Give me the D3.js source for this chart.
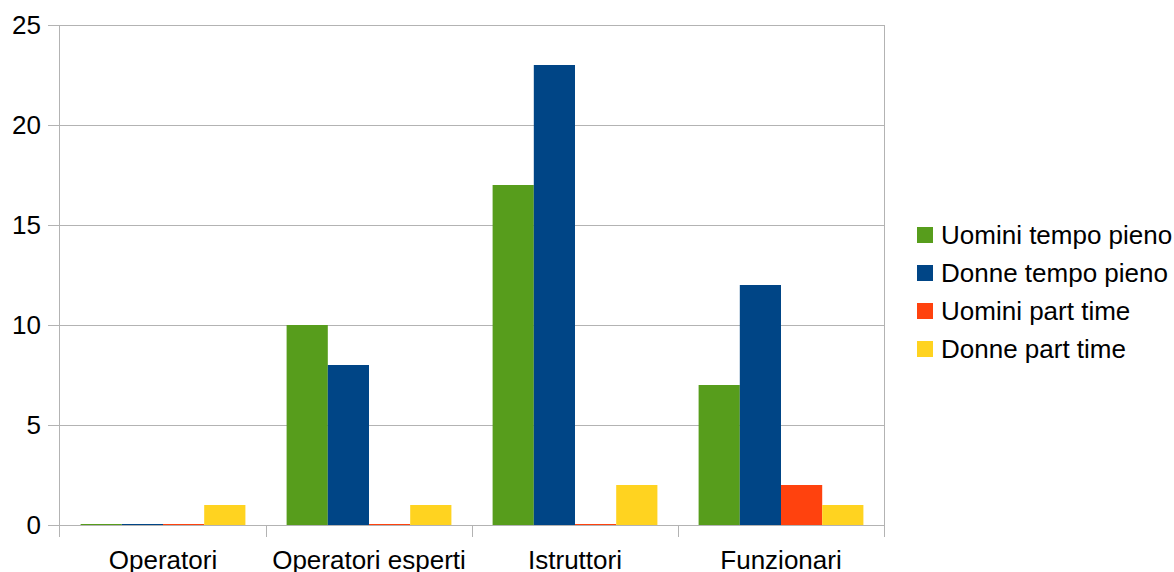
<!DOCTYPE html>
<html>
<head>
<meta charset="utf-8">
<script src="https://cdn.jsdelivr.net/npm/d3@7"></script>
<style>
  html, body { margin: 0; padding: 0; background: #fff; }
  text { font-family: "Liberation Sans", Arial, sans-serif; fill: #000; }
</style>
</head>
<body>
<svg id="chart" width="1174" height="572"></svg>
<script>
// Staff by role and contract type
const categories = ["Operatori", "Operatori esperti", "Istruttori", "Funzionari"];
const seriesNames = ["Uomini tempo pieno", "Donne tempo pieno", "Uomini part time", "Donne part time"];
const uominiTempoPieno = [0, 10, 17, 7];
const donneTempoPieno = [0, 8, 23, 12];
const uominiPartTime = [0, 0, 0, 2];
const donnePartTime = [1, 1, 2, 1];
const seriesColors = ["#579d1c", "#004586", "#ff420e", "#ffd320"];
const yTicks = [0, 5, 10, 15, 20, 25];

const seriesValues = [uominiTempoPieno, donneTempoPieno, uominiPartTime, donnePartTime];

const svg = d3.select("#chart");
const plot = { left: 60, right: 884, top: 25, bottom: 525 };
const fontSize = "26px";

const x0 = d3.scaleBand().domain(categories).range([plot.left, plot.right]).paddingInner(0).paddingOuter(0);
const x1 = d3.scaleBand().domain(seriesNames).range([0, x0.bandwidth()]).paddingOuter(0.5).paddingInner(0);
const y = d3.scaleLinear().domain([0, 25]).range([plot.bottom, plot.top]);

// horizontal grid
svg.append("g")
  .selectAll("line")
  .data(yTicks)
  .join("line")
  .attr("x1", plot.left - 12)
  .attr("x2", plot.right)
  .attr("y1", d => Math.round(y(d)) + 0.5)
  .attr("y2", d => Math.round(y(d)) + 0.5)
  .attr("stroke", "#b3b3b3")
  .attr("stroke-width", 1);

// y axis line
svg.append("line")
  .attr("x1", plot.left - 0.5).attr("x2", plot.left - 0.5)
  .attr("y1", plot.top).attr("y2", plot.bottom + 12)
  .attr("stroke", "#b3b3b3");

// right border
svg.append("line")
  .attr("x1", plot.right + 0.5).attr("x2", plot.right + 0.5)
  .attr("y1", plot.top).attr("y2", plot.bottom)
  .attr("stroke", "#b3b3b3");

// y tick labels
svg.append("g")
  .selectAll("text")
  .data(yTicks)
  .join("text")
  .attr("x", plot.left - 19)
  .attr("y", d => y(d))
  .attr("dy", "0.35em")
  .attr("text-anchor", "end")
  .style("font-size", fontSize)
  .text(d => d);

// bars
const groups = svg.append("g")
  .selectAll("g")
  .data(categories)
  .join("g")
  .attr("transform", d => `translate(${x0(d)},0)`);

groups.selectAll("rect")
  .data((c, ci) => seriesNames.map((s, si) => ({ s, si, v: seriesValues[si][ci] })))
  .join("rect")
  .attr("x", d => x1(d.s))
  .attr("width", x1.bandwidth())
  .attr("y", d => Math.min(y(d.v), y(0) - 1))
  .attr("height", d => Math.max(y(0) - y(d.v), 1))
  .attr("fill", d => seriesColors[d.si]);

// x axis line
svg.append("line")
  .attr("x1", plot.left).attr("x2", plot.right)
  .attr("y1", plot.bottom + 0.5).attr("y2", plot.bottom + 0.5)
  .attr("stroke", "#b3b3b3");

// category boundary ticks
const boundaries = categories.map(c => x0(c)).concat([plot.right]);
svg.append("g")
  .selectAll("line")
  .data(boundaries.slice(1))
  .join("line")
  .attr("x1", d => Math.round(d) + 0.5)
  .attr("x2", d => Math.round(d) + 0.5)
  .attr("y1", plot.bottom)
  .attr("y2", plot.bottom + 12)
  .attr("stroke", "#b3b3b3");

// category labels
svg.append("g")
  .selectAll("text")
  .data(categories)
  .join("text")
  .attr("x", d => x0(d) + x0.bandwidth() / 2)
  .attr("y", 568.5)
  .attr("text-anchor", "middle")
  .style("font-size", fontSize)
  .text(d => d);

// legend
const legend = svg.append("g")
  .selectAll("g")
  .data(seriesNames)
  .join("g")
  .attr("transform", (d, i) => `translate(917,${235 + i * 38})`);

legend.append("rect")
  .attr("x", 0).attr("y", -8)
  .attr("width", 16).attr("height", 16)
  .attr("fill", (d, i) => seriesColors[i]);

legend.append("text")
  .attr("x", 24)
  .attr("y", 0)
  .attr("dy", "0.35em")
  .style("font-size", fontSize)
  .text(d => d);
</script>
</body>
</html>
